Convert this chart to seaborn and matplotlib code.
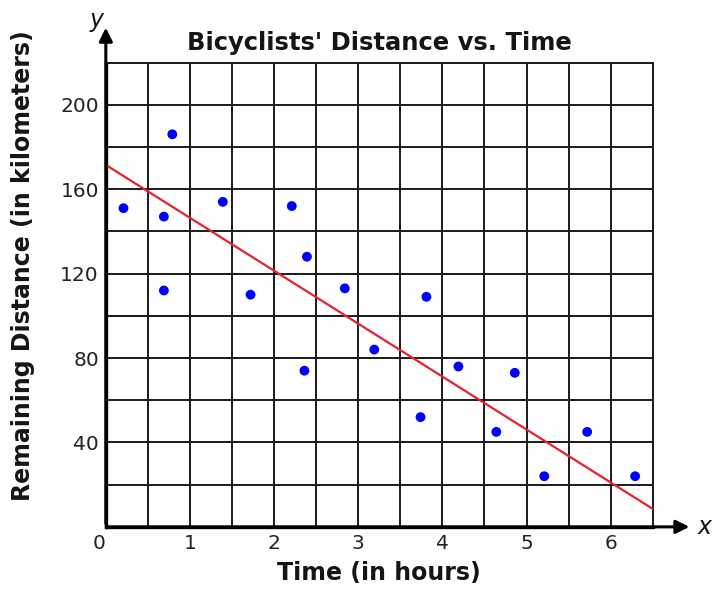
import numpy as np
import pandas as pd
import matplotlib
matplotlib.use("Agg")
import matplotlib.pyplot as plt
import seaborn as sns

# data
time_hours = [0.21, 0.69, 0.69, 0.79, 1.39, 1.72, 2.21, 2.39, 2.36, 2.84,
              3.19, 3.81, 3.74, 4.19, 4.64, 4.86, 5.21, 5.72, 6.29]
distance_km = [151, 147, 112, 186, 154, 110, 152, 128, 74, 113,
               84, 109, 52, 76, 45, 73, 24, 45, 24]
fit_x = [0, 6.5]
fit_y = [171.5, 8.5]
x_ticks = [0, 1, 2, 3, 4, 5, 6]
y_ticks = [40, 80, 120, 160, 200]

df = pd.DataFrame({"time": time_hours, "distance": distance_km})
fit = pd.DataFrame({"time": fit_x, "distance": fit_y})

sns.set_style("white")
plt.rcParams["font.family"] = ["DejaVu Sans"]
ink = "#151515"

fig = plt.figure(figsize=(7.15, 5.9), dpi=100)
ax = fig.add_axes([0.148, 0.107, 0.765, 0.787])

sns.lineplot(data=fit, x="time", y="distance", color="#e8212a", linewidth=1.6, ax=ax, zorder=3)
sns.scatterplot(data=df, x="time", y="distance", color="#0000ff", s=50, edgecolor="none", ax=ax, zorder=4)

ax.set_xlim(0, 6.5)
ax.set_ylim(0, 220)

# grid every half hour / every 20 km
ax.set_xticks(np.arange(0, 6.51, 0.5), minor=True)
ax.set_yticks(np.arange(0, 220.1, 20), minor=True)
ax.set_xticks(x_ticks)
ax.set_yticks(y_ticks)
ax.set_xticklabels([str(t) for t in x_ticks], fontsize=14.5, color="#222222")
ax.set_yticklabels([str(t) for t in y_ticks], fontsize=14.5, color="#222222")
ax.get_xticklabels()[0].set_horizontalalignment("right")
ax.grid(True, which="both", color="#1a1a1a", linewidth=1.4)
ax.tick_params(which="both", length=0, pad=5)
ax.set_axisbelow(True)

for side in ["top", "right"]:
    ax.spines[side].set_color("#1a1a1a")
    ax.spines[side].set_linewidth(1.4)
for side in ["left", "bottom"]:
    ax.spines[side].set_color("black")
    ax.spines[side].set_linewidth(2.4)

# axis arrows
ax.annotate("", xy=(0, 1.081), xytext=(0, 0), xycoords="axes fraction",
            arrowprops=dict(arrowstyle="-|>", color="black", lw=2.2, mutation_scale=20),
            annotation_clip=False)
ax.annotate("", xy=(1.072, 0), xytext=(0, 0), xycoords="axes fraction",
            arrowprops=dict(arrowstyle="-|>", color="black", lw=2.2, mutation_scale=20),
            annotation_clip=False)
ax.text(-0.004, 1.092, "y", transform=ax.transAxes, fontsize=17, style="italic",
        ha="right", va="center", color=ink)
ax.text(1.082, 0.0, "x", transform=ax.transAxes, fontsize=17, style="italic",
        ha="left", va="center", color=ink)

ax.set_title("Bicyclists' Distance vs. Time", fontsize=17.5, fontweight="bold", pad=9, color=ink)
ax.set_xlabel("Time (in hours)", fontsize=17, fontweight="bold", labelpad=6, color=ink)
ax.set_ylabel("Remaining Distance (in kilometers)", fontsize=17, fontweight="bold", color=ink)
ax.yaxis.set_label_coords(-0.13, 0.562)

fig.savefig("out.png", dpi=100)
